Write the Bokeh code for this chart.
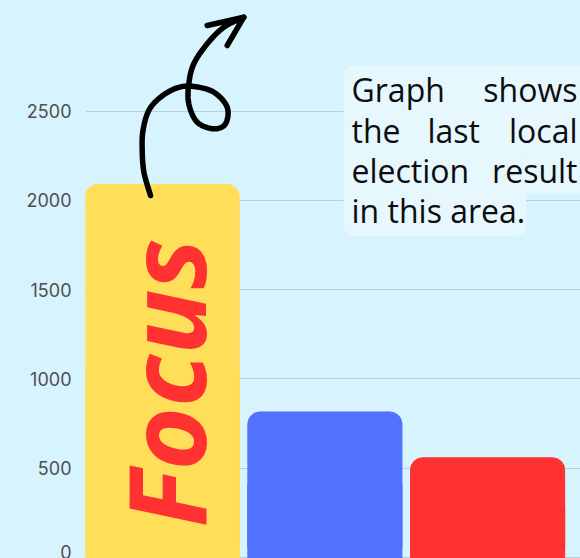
import numpy as np
from bokeh.plotting import figure
from bokeh.models import FixedTicker, Range1d
from bokeh.core.properties import value
from bokeh.embed import file_html
from bokeh.resources import INLINE

# ---- data ----
parties = ["Yellow", "Blue", "Red"]
votes = [2090, 815, 558]
bar_colors = ["#ffde59", "#5271ff", "#ff3131"]
y_ticks = [0, 500, 1000, 1500, 2000, 2500]
note_words = [["Graph", "shows"], ["the", "last", "local"], ["election", "result"], ["in this area."]]
focus_label = "Focus"

BG = "#d6f3fe"
W, H = 580, 558

# page -> data helpers for decorations
X0, XS = 161.7, 162.7        # page x of first bar centre, px per category
Y0, YS = 556.9, 0.17847      # page y of value 0, px per vote


def dx(px):
    return (px - X0) / XS


def dy(py):
    return (Y0 - py) / YS


p = figure(width=W, height=H, output_backend="svg", toolbar_location=None,
           x_range=Range1d(dx(85), dx(580)), y_range=Range1d(dy(558), dy(0)),
           min_border_left=85, min_border_right=0, min_border_top=0, min_border_bottom=0)
p.background_fill_color = BG
p.border_fill_color = BG
p.outline_line_color = None
p.xaxis.visible = False
p.xgrid.visible = False
p.ygrid.grid_line_color = "#b9cfda"
p.ygrid.grid_line_width = 1
p.yaxis.ticker = FixedTicker(ticks=y_ticks)
p.yaxis.axis_line_color = None
p.yaxis.major_tick_line_color = None
p.yaxis.minor_tick_line_color = None
p.yaxis.major_tick_out = 0
p.yaxis.major_tick_in = 0
p.yaxis.major_label_standoff = 14
p.yaxis.major_label_text_font = "Inter"
p.yaxis.major_label_text_font_size = "18px"
p.yaxis.major_label_text_color = "#4f4f4f"

xs = np.arange(len(parties))
# rounded tops
p.vbar(x=xs, top=votes, bottom=dy(640), width=0.947, color=bar_colors, border_radius=12)
# square lower part (hides the rounded bottom corners at the frame edge)
p.vbar(x=xs, top=np.array(votes) / 2, bottom=dy(640), width=0.947, color=bar_colors)

# Focus label inside the first bar
p.text(x=[dx(164)], y=[dy(527)], text=[focus_label], angle=np.pi / 2,
       text_font=value("Open Sans"), text_font_style="bold italic",
       text_font_size="108px", text_color="#ff3131",
       text_align="left", text_baseline="alphabetic")

# note box
box_c = "#e6f7fe"
p.quad(left=[dx(343.3)], right=[dx(610)], top=[dy(65)], bottom=[dy(194)],
       fill_color=box_c, line_color=None, border_radius=10)
p.quad(left=[dx(343.3)], right=[dx(525.5)], top=[dy(150)], bottom=[dy(235.5)],
       fill_color=box_c, line_color=None, border_radius=10)

baselines = [88.5, 129.5, 169.5, 209.5]
tx, ty, ta = [], [], []
for words, b in zip(note_words, baselines):
    if len(words) == 1:
        tx.append(dx(351)); ty.append(dy(b)); ta.append("left")
    elif len(words) == 2:
        tx += [dx(351), dx(577)]; ty += [dy(b), dy(b)]; ta += ["left", "right"]
    else:
        tx += [dx(351), dx(427), dx(577)]; ty += [dy(b)] * 3; ta += ["left", "left", "right"]
words_flat = [w for ws in note_words for w in ws]
p.text(x=tx, y=ty, text=words_flat, text_align=ta, text_baseline="alphabetic",
       text_font=value("Open Sans"), text_font_size="32px", text_color="#0d0d0d")

# hand-drawn arrow (page coordinates of the stroke)
pts = np.array([
    (150, 195), (143.5, 172), (141.7, 150), (142.5, 130), (148.3, 110), (160, 96.7),
    (176.7, 87.3), (193.3, 86), (213.3, 91.7), (226.7, 106.7), (225, 123.3),
    (213.3, 128.3), (196.7, 121.7), (188.3, 103.3), (188.3, 83.3), (193.3, 63.3),
    (206.7, 43.3), (223.3, 26.7), (243.3, 16.7)])


def catmull(points, n=10):
    P = np.vstack([points[0], points, points[-1]])
    out = []
    for i in range(1, len(P) - 2):
        p0, p1, p2, p3 = P[i - 1], P[i], P[i + 1], P[i + 2]
        for t in np.linspace(0, 1, n, endpoint=False):
            t2, t3 = t * t, t * t * t
            out.append(0.5 * ((2 * p1) + (-p0 + p2) * t + (2 * p0 - 5 * p1 + 4 * p2 - p3) * t2
                              + (-p0 + 3 * p1 - 3 * p2 + p3) * t3))
    out.append(P[-2])
    return np.array(out)


sm = catmull(pts)
p.line(x=dx(sm[:, 0]), y=dy(sm[:, 1]), line_color="black", line_width=5.5,
       line_cap="round", line_join="round")
p.line(x=[dx(206.7), dx(243.3), dx(226.7)], y=[dy(25), dy(16.7), dy(45)],
       line_color="black", line_width=5.5, line_cap="round", line_join="round")

template = "{% block postamble %}<style>body{background:" + BG + ";}</style>{% endblock %}"
open("out.html", "w").write(file_html(p, INLINE, template=template))
